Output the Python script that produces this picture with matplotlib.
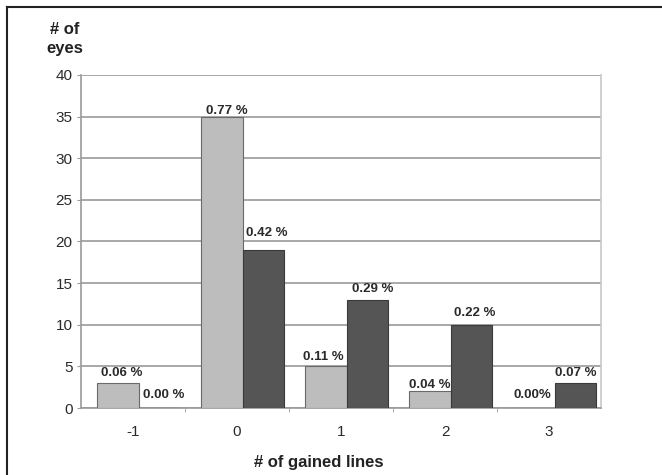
import matplotlib
matplotlib.use("Agg")
import matplotlib.pyplot as plt
from matplotlib.lines import Line2D
import numpy as np

# eyes per number of gained lines, two groups
categories = ["-1", "0", "1", "2", "3"]
light_counts = [3, 35, 5, 2, 0]
dark_counts = [0, 19, 13, 10, 3]
light_labels = ["0.06 %", "0.77 %", "0.11 %", "0.04 %", "0.00%"]
dark_labels = ["0.00 %", "0.42 %", "0.29 %", "0.22 %", "0.07 %"]

LIGHT = "#bdbdbd"
DARK = "#555555"
GRID = "#9a9a9a"
TEXT = "#2a2a2a"

plt.rcParams["font.family"] = ["Liberation Sans", "DejaVu Sans"]

fig = plt.figure(figsize=(6.62, 4.75), dpi=100)
ax = fig.add_axes([81 / 662, 1 - 408 / 475, (601 - 81) / 662, (408 - 75) / 475])

x = np.arange(len(categories))
width = 0.40
shift = 0.055
light_bars = ax.bar(x + shift - width / 2, light_counts, width, color=LIGHT,
                    edgecolor="#6a6a6a", linewidth=0.8, zorder=3)
dark_bars = ax.bar(x + shift + width / 2, dark_counts, width, color=DARK,
                   edgecolor="#3a3a3a", linewidth=0.8, zorder=3)

# label offsets from the bar tops, in points
light_dx = [2.5, 3.5, -2, 0, -1]
light_dy = [7, 4, 6.5, 4.5, 9.5]
dark_dx = [3, 2, 4, 2, 0]
dark_dy = [9, 12, 7.5, 8.5, 7]
for bars, labels, dxs, dys in ((light_bars, light_labels, light_dx, light_dy),
                               (dark_bars, dark_labels, dark_dx, dark_dy)):
    for b, lab, dx, dy in zip(bars, labels, dxs, dys):
        ax.annotate(lab, (b.get_x() + b.get_width() / 2, b.get_height()),
                    xytext=(dx, dy), textcoords="offset points",
                    ha="center", va="center", fontsize=9.5,
                    fontweight="bold", color=TEXT, zorder=4)

ax.set_xlim(-0.5, 4.5)
ax.set_ylim(0, 40)
ax.set_yticks(range(0, 41, 5))
ax.set_xticks(x)
ax.set_xticklabels(categories)
ax.set_xticks(np.arange(0.5, 4, 1), minor=True)
ax.tick_params(axis="x", which="major", length=0, pad=12, labelsize=11,
               colors=TEXT)
ax.tick_params(axis="x", which="minor", length=3, color=GRID)
ax.tick_params(axis="y", length=3, color=GRID, pad=3, labelsize=11,
               colors=TEXT)
ax.grid(axis="y", color=GRID, linewidth=1.2, zorder=0)
for side in ("left", "bottom"):
    ax.spines[side].set_color(GRID)
    ax.spines[side].set_linewidth(1.2)
ax.spines["top"].set_visible(False)
ax.spines["right"].set_color("#c8c8c8")
ax.spines["right"].set_linewidth(1.2)

fig.text(65 / 662, 1 - 39 / 475, "# of\neyes", ha="center", va="center",
         fontsize=12, fontweight="bold", color="#222222", linespacing=1.25)
fig.text(319 / 662, 1 - 462 / 475, "# of gained lines", ha="center",
         va="center", fontsize=12, fontweight="bold", color="#222222")

# outer frame running off the right and bottom edges
fig.add_artist(Line2D([7 / 662, 7 / 662], [1 - 7 / 475, -0.1],
                      transform=fig.transFigure, color="#222222", linewidth=1.5))
fig.add_artist(Line2D([7 / 662, 1.1], [1 - 7 / 475, 1 - 7 / 475],
                      transform=fig.transFigure, color="#222222", linewidth=1.5))

fig.savefig("out.png", dpi=100)
